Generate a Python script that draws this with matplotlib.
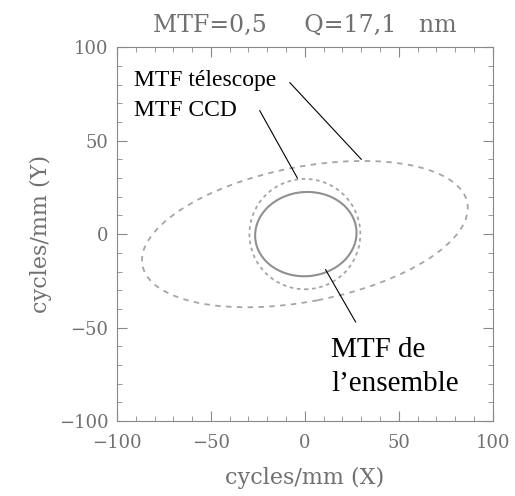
import matplotlib
matplotlib.use('Agg')
import matplotlib.pyplot as plt
from matplotlib.patches import Ellipse
from matplotlib.ticker import MultipleLocator

# contours MTF=0.5: centre, largeur, hauteur, angle (deg)
tel_centre = (0, 0)
tel_largeur, tel_hauteur, tel_angle = 176, 72, 11
ccd_centre = (0, 0)
ccd_largeur, ccd_hauteur, ccd_angle = 59, 59, 0
ens_centre = (0.5, 0)
ens_largeur, ens_hauteur, ens_angle = 54, 45, 5

ticks = [-100, -50, 0, 50, 100]

gris = '#707070'
plt.rcParams['font.family'] = 'DejaVu Serif'

fig = plt.figure(figsize=(5.15, 4.96), dpi=100)
ax = fig.add_axes([0.227, 0.151, 0.730, 0.754])

ax.add_patch(Ellipse(tel_centre, tel_largeur, tel_hauteur, angle=tel_angle,
                     fill=False, ec='#a5a5a5', lw=1.3, ls=(0, (3, 3))))
ax.add_patch(Ellipse(ccd_centre, ccd_largeur, ccd_hauteur, angle=ccd_angle,
                     fill=False, ec='#a5a5a5', lw=1.3, ls=(0, (2, 2))))
ax.add_patch(Ellipse(ens_centre, ens_largeur, ens_hauteur, angle=ens_angle,
                     fill=False, ec='#909090', lw=1.5))

ax.set_xlim(-100, 100)
ax.set_ylim(-100, 100)
ax.set_xticks(ticks)
ax.set_yticks(ticks)
ax.xaxis.set_minor_locator(MultipleLocator(10))
ax.yaxis.set_minor_locator(MultipleLocator(10))
ax.tick_params(which='both', direction='in', top=True, right=True, colors='#888888',
               labelsize=13, labelcolor=gris)
ax.tick_params(which='major', length=7)
ax.tick_params(which='minor', length=3.5)
ax.tick_params(axis='x', pad=9)
ax.tick_params(axis='y', pad=6)
for s in ax.spines.values():
    s.set_color('#888888')

ax.set_title('MTF=0,5     Q=17,1   nm', fontsize=17, color=gris, pad=11)
ax.set_xlabel('cycles/mm (X)', fontsize=16, color=gris, labelpad=11)
ax.set_ylabel('cycles/mm (Y)', fontsize=16, color=gris, labelpad=5)

# annotations
serif = 'Liberation Serif'
ax.text(-91, 82, 'MTF télescope', family=serif, fontsize=17, va='center')
ax.text(-91, 66, 'MTF CCD', family=serif, fontsize=17, va='center')
ax.text(14, -62, 'MTF de', family=serif, fontsize=21, va='center')
ax.text(14, -80, 'l\u2019ensemble', family=serif, fontsize=21, va='center')
ax.plot([-8, 30], [81, 40], color='black', lw=0.8)
ax.plot([-24, -4], [66, 30], color='black', lw=0.8)
ax.plot([11, 27], [-19, -47], color='black', lw=0.8)

fig.savefig('out.png', dpi=100)
